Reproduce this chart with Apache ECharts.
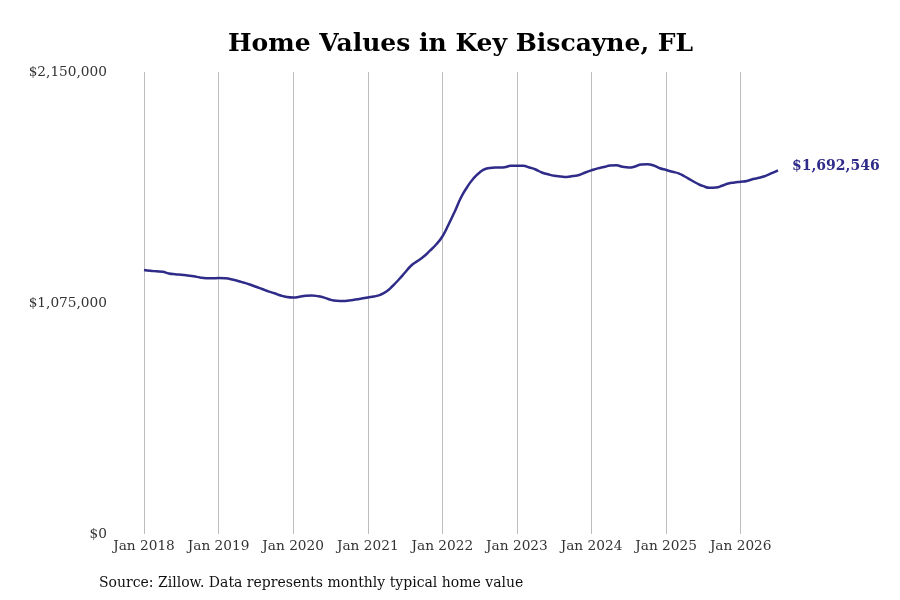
<!DOCTYPE html>
<html>
<head>
<meta charset="utf-8">
<script src="https://cdn.jsdelivr.net/npm/echarts@6/dist/echarts.min.js"></script>
<style>html,body{margin:0;padding:0;background:#fff}#c{width:900px;height:600px}</style>
</head>
<body>
<div id="c"></div>
<script>
const startYear = 2018;
const monthNames = ['Jan','Feb','Mar','Apr','May','Jun','Jul','Aug','Sep','Oct','Nov','Dec'];
const values = [
  1228600,1224800,1222500,1220200,1212300,1208600,1206200,1203000,1199300,1193700,1190400,1189900,
  1191300,1189900,1185800,1178800,1170400,1161100,1150400,1140200,1129400,1120100,1109900,1102900,
  1100600,1103900,1109000,1109900,1106600,1100100,1089900,1085200,1084300,1086600,1090800,1095500,
  1100600,1105200,1113200,1128500,1154100,1184400,1216900,1249500,1270500,1291400,1318400,1347200,
  1384500,1440300,1500800,1566000,1614800,1654400,1682300,1699500,1704200,1705600,1707000,1713500,
  1714000,1714000,1705600,1696300,1682300,1673900,1666900,1663700,1661400,1666000,1670700,1682300,
  1692500,1701400,1707900,1714400,1715800,1708800,1705600,1710200,1719500,1720900,1714900,1702300,
  1693900,1685600,1678600,1663700,1647400,1631100,1618600,1611100,1612500,1620400,1631100,1635800,
  1639000,1642700,1652100,1657600,1666900,1679000,1692546
];
const categories = values.map((v, i) => monthNames[i % 12] + ' ' + (startYear + Math.floor(i / 12)));
const yTicks = [0, 1075000, 2150000];
const titleText = 'Home Values in Key Biscayne, FL';
const sourceText = 'Source: Zillow. Data represents monthly typical home value';
const lineColor = '#2f2b88';
const font = 'DejaVu Serif';
const money = v => '$' + Math.round(v).toLocaleString('en-US');

const chart = echarts.init(document.getElementById('c'), null, {renderer: 'canvas'});
chart.setOption({
  animation: false,
  backgroundColor: '#fff',
  title: [
    {text: titleText, left: 228, top: 32, padding: 0,
     textStyle: {fontFamily: font, fontSize: 25, fontWeight: 'bold', color: '#000'}},
    {text: sourceText, left: 99, top: 576, padding: 0,
     textStyle: {fontFamily: font, fontSize: 14, fontWeight: 'normal', color: '#111'}}
  ],
  grid: {left: 144, right: 122, top: 72, bottom: 66, containLabel: false},
  xAxis: {
    type: 'category',
    data: categories,
    boundaryGap: false,
    axisLine: {show: false},
    axisTick: {show: false},
    axisLabel: {interval: 11, margin: 5, fontFamily: font, fontSize: 13.7, color: '#333'},
    splitLine: {show: true, interval: 11, lineStyle: {color: '#bdbdbd', width: 1}}
  },
  yAxis: {
    type: 'value',
    min: yTicks[0], max: yTicks[2], interval: yTicks[1],
    axisLine: {show: false},
    axisTick: {show: false},
    splitLine: {show: false},
    axisLabel: {margin: 37, padding: [6, 0, 0, 0], fontFamily: font, fontSize: 13.7, color: '#333', formatter: money}
  },
  series: [{
    type: 'line',
    data: values,
    smooth: true,
    symbol: 'none',
    lineStyle: {color: lineColor, width: 2.5},
    endLabel: {
      show: true,
      formatter: p => money(p.value),
      distance: 14,
      offset: [0, -4],
      fontFamily: font, fontSize: 14, fontWeight: 'bold', color: lineColor
    }
  }]
});
</script>
</body>
</html>
